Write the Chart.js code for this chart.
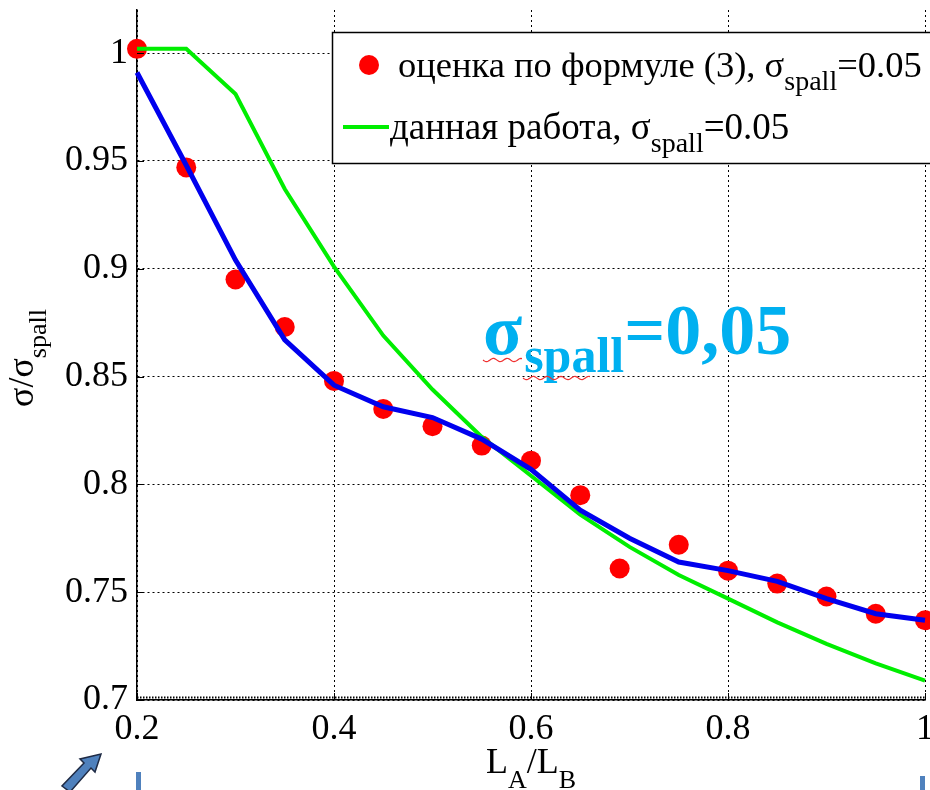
<!DOCTYPE html>
<html>
<head>
<meta charset="utf-8">
<script src="https://cdn.jsdelivr.net/npm/chart.js@4"></script>
<style>
body { margin: 0; background: #fff; }
#wrap { width: 930px; height: 790px; }
</style>
</head>
<body>
<div id="wrap"><canvas id="grafico" width="930" height="790"></canvas></div>
<script>
// L_A/L_B values
const lineX = [0.2, 0.25, 0.3, 0.35, 0.4, 0.45, 0.5, 0.55, 0.6, 0.65, 0.7, 0.75, 0.8, 0.85, 0.9, 0.95, 1.0];
const blueY = [0.991, 0.948, 0.904, 0.867, 0.846, 0.836, 0.831, 0.821, 0.807, 0.788, 0.775, 0.764, 0.760, 0.755, 0.747, 0.740, 0.737];
const greenY = [1.002, 1.002, 0.981, 0.937, 0.901, 0.869, 0.844, 0.822, 0.804, 0.786, 0.771, 0.758, 0.747, 0.736, 0.726, 0.717, 0.709];

// оценка по формуле (3)
const formulaX = [0.2, 0.25, 0.3, 0.35, 0.4, 0.45, 0.5, 0.55, 0.6, 0.65, 0.69, 0.75, 0.8, 0.85, 0.9, 0.95, 1.0];
const formulaY = [1.002, 0.947, 0.895, 0.873, 0.848, 0.835, 0.827, 0.818, 0.811, 0.795, 0.761, 0.772, 0.760, 0.754, 0.748, 0.740, 0.737];

const xTicks = [0.2, 0.4, 0.6, 0.8, 1];
const yTicks = [0.7, 0.75, 0.8, 0.85, 0.9, 0.95, 1];

const SERIF = '"Liberation Serif", "DejaVu Serif", serif';

function pts(xs, ys) {
    return xs.map((x, i) => ({ x: x, y: ys[i] }));
}

// draws text pieces, some of them as subscripts, from x along the baseline y
function drawRich(ctx, x, y, parts, size, subSize, drop, weight) {
    weight = weight || '';
    parts.forEach(p => {
        if (p.sub) {
            ctx.font = weight + ' ' + subSize + 'px ' + SERIF;
            ctx.fillText(p.t, x, y + drop);
        } else {
            ctx.font = weight + ' ' + size + 'px ' + SERIF;
            ctx.fillText(p.t, x, y);
        }
        x += ctx.measureText(p.t).width;
    });
    return x;
}

function richWidth(ctx, parts, size, subSize, weight) {
    weight = weight || '';
    let w = 0;
    parts.forEach(p => {
        ctx.font = weight + ' ' + (p.sub ? subSize : size) + 'px ' + SERIF;
        w += ctx.measureText(p.t).width;
    });
    return w;
}

const extras = {
    id: 'extras',
    afterDraw(chart) {
        const ctx = chart.ctx;
        const a = chart.chartArea;
        const xs = chart.scales.x, ys = chart.scales.y;
        ctx.save();

        // small ticks on the axes
        ctx.strokeStyle = '#000';
        ctx.lineWidth = 1;
        xTicks.forEach(v => {
            const px = Math.round(xs.getPixelForValue(v)) + 0.5;
            ctx.beginPath(); ctx.moveTo(px, a.bottom); ctx.lineTo(px, a.bottom - 7); ctx.stroke();
        });
        yTicks.forEach(v => {
            const py = Math.round(ys.getPixelForValue(v)) + 0.5;
            ctx.beginPath(); ctx.moveTo(a.left, py); ctx.lineTo(a.left + 7, py); ctx.stroke();
        });
        // dense minor ticks along the bottom axis
        ctx.setLineDash([1.5, 1.5]);
        ctx.lineWidth = 2;
        ctx.beginPath(); ctx.moveTo(a.left, a.bottom - 2.5); ctx.lineTo(a.right, a.bottom - 2.5); ctx.stroke();
        ctx.setLineDash([]);

        // legend box
        ctx.fillStyle = '#fff';
        ctx.fillRect(332, 32, 620, 131);
        ctx.lineWidth = 1.5;
        ctx.strokeStyle = '#000';
        ctx.strokeRect(332.5, 32.5, 620, 131);

        ctx.fillStyle = '#ff0000';
        ctx.beginPath(); ctx.arc(369, 65, 10, 0, Math.PI * 2); ctx.fill();
        ctx.strokeStyle = '#00ee00';
        ctx.lineWidth = 4;
        ctx.beginPath(); ctx.moveTo(343, 127); ctx.lineTo(389, 127); ctx.stroke();

        ctx.fillStyle = '#000';
        ctx.textBaseline = 'alphabetic';
        ctx.textAlign = 'left';
        drawRich(ctx, 398, 77, [{ t: 'оценка по формуле (3), σ' }, { t: 'spall', sub: true }, { t: '=0.05' }], 36.5, 28, 13);
        drawRich(ctx, 390, 139, [{ t: 'данная работа, σ' }, { t: 'spall', sub: true }, { t: '=0.05' }], 37, 28, 13);

        // x axis title
        const xt = [{ t: 'L' }, { t: 'A', sub: true }, { t: '/L' }, { t: 'B', sub: true }];
        const xw = richWidth(ctx, xt, 36, 26);
        drawRich(ctx, 531 - xw / 2, 773, xt, 36, 26, 15);

        // y axis title, rotated
        ctx.save();
        ctx.translate(33, 358);
        ctx.rotate(-Math.PI / 2);
        const yt = [{ t: 'σ/σ' }, { t: 'spall', sub: true }];
        const yw = richWidth(ctx, yt, 36, 26);
        drawRich(ctx, -yw / 2, 0, yt, 36, 26, 13);
        ctx.restore();

        // annotation
        ctx.fillStyle = '#00b0f0';
        const endSigma = drawRich(ctx, 483, 354, [{ t: 'σ' }], 72, 50, 18, 'bold');
        const endSub = drawRich(ctx, endSigma + 2, 354, [{ t: 'spall', sub: true }], 72, 50, 18, 'bold');
        drawRich(ctx, endSub, 354, [{ t: '=0,05' }], 72, 50, 18, 'bold');

        // red spell-check waves
        ctx.strokeStyle = '#f03030';
        ctx.lineWidth = 1.2;
        function wave(x0, x1, y0) {
            ctx.beginPath();
            for (let x = x0; x <= x1; x += 1) {
                const y = y0 + 1.6 * Math.sin((x - x0) / 2.2);
                if (x === x0) ctx.moveTo(x, y); else ctx.lineTo(x, y);
            }
            ctx.stroke();
        }
        wave(483, 522, 360);
        wave(523, 590, 378);

        // fragments of the page below the chart
        ctx.fillStyle = '#4f81bd';
        ctx.fillRect(136, 772, 5, 18);
        ctx.fillRect(920, 776, 5, 14);
        ctx.strokeStyle = '#1f2b45';
        ctx.lineWidth = 1.5;
        ctx.beginPath();
        ctx.moveTo(101, 754);
        ctx.lineTo(95, 772);
        ctx.lineTo(91, 768);
        ctx.lineTo(70, 792);
        ctx.lineTo(62, 786);
        ctx.lineTo(84, 763);
        ctx.lineTo(80, 759);
        ctx.closePath();
        ctx.fill();
        ctx.stroke();

        ctx.restore();
    }
};

const config = {
    type: 'line',
    data: {
        datasets: [
            {
                label: 'blue',
                data: pts(lineX, blueY),
                borderColor: '#0000ee',
                borderWidth: 5,
                pointRadius: 0,
                fill: false,
                tension: 0,
                clip: false
            },
            {
                label: 'данная работа',
                data: pts(lineX, greenY),
                borderColor: '#00ee00',
                borderWidth: 4,
                pointRadius: 0,
                fill: false,
                tension: 0,
                clip: false
            },
            {
                label: 'оценка по формуле (3)',
                data: pts(formulaX, formulaY),
                showLine: false,
                pointRadius: 10,
                pointBorderWidth: 0,
                pointBackgroundColor: '#ff0000',
                pointBorderColor: '#ff0000',
                clip: false
            }
        ]
    },
    options: {
        responsive: false,
        animation: false,
        devicePixelRatio: 1,
        layout: { autoPadding: false, padding: { top: 10, right: 5, left: 0, bottom: 0 } },
        plugins: {
            legend: { display: false },
            tooltip: { enabled: false }
        },
        scales: {
            x: {
                type: 'linear',
                min: 0.2,
                max: 1,
                afterBuildTicks: s => { s.ticks = xTicks.map(v => ({ value: v })); },
                afterFit: s => { s.height = 90; s.paddingLeft = 0; s.paddingRight = 0; },
                ticks: {
                    color: '#000',
                    font: { family: SERIF, size: 36 },
                    padding: 8,
                    maxRotation: 0,
                    callback: v => String(+v.toFixed(2))
                },
                grid: { color: '#000', lineWidth: 1, drawTicks: false },
                border: { color: '#000', width: 1.5, dash: [2, 3] }
            },
            y: {
                type: 'linear',
                min: 0.7,
                max: 1.02,
                afterBuildTicks: s => { s.ticks = yTicks.map(v => ({ value: v })); },
                afterFit: s => { s.width = 137; s.paddingTop = 0; s.paddingBottom = 0; },
                ticks: {
                    color: '#000',
                    font: { family: SERIF, size: 36 },
                    padding: 9,
                    callback: v => String(+v.toFixed(2))
                },
                grid: { color: '#000', lineWidth: 1, drawTicks: false },
                border: { color: '#000', width: 1.5, dash: [2, 3] }
            }
        }
    },
    plugins: [extras]
};

const grafico = new Chart(document.getElementById('grafico'), config);
</script>
</body>
</html>
